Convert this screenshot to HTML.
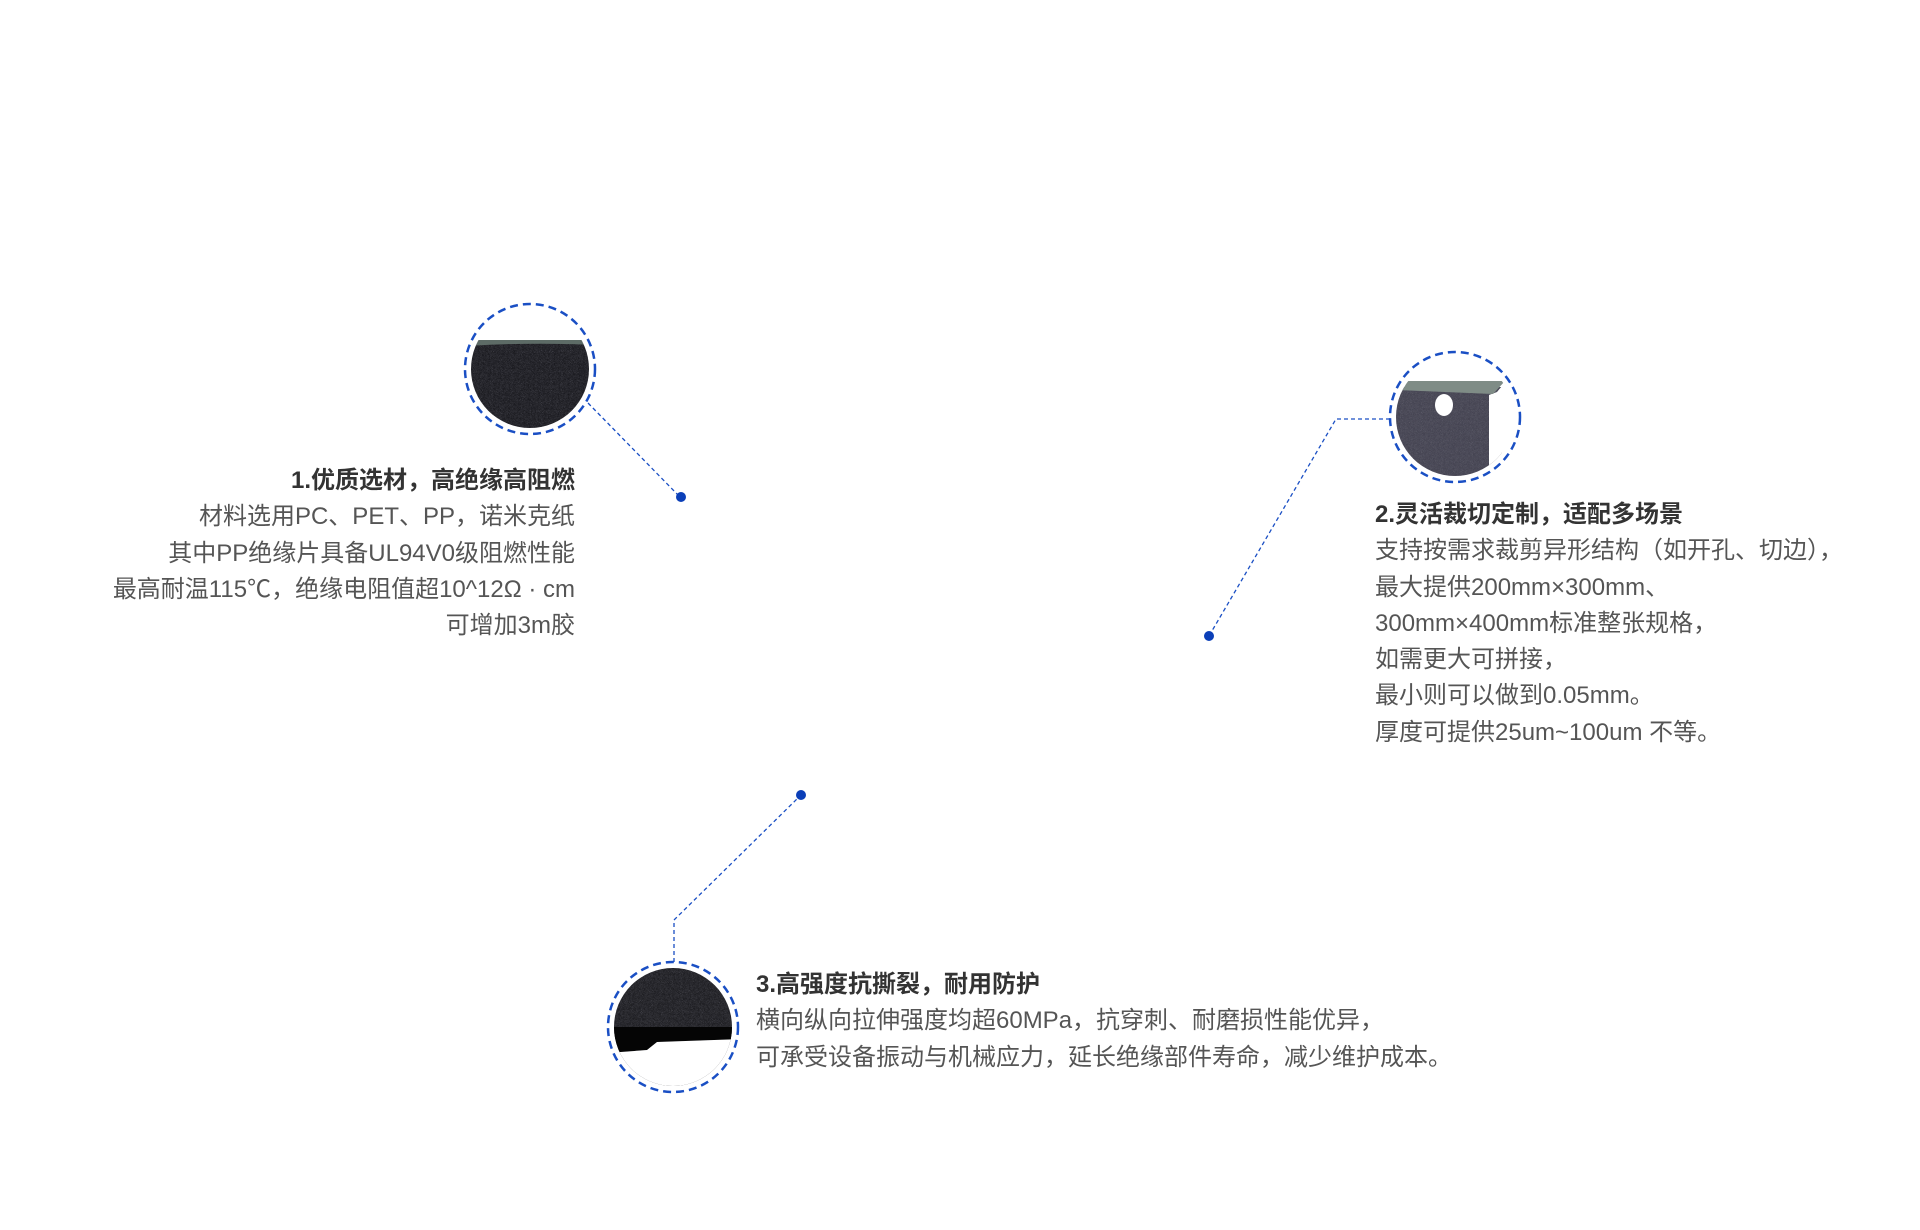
<!DOCTYPE html>
<html><head><meta charset="utf-8"><style>
html,body{margin:0;padding:0;background:#fff;}
body{width:1920px;height:1230px;position:relative;overflow:hidden;font-family:"Liberation Sans","Noto Sans CJK SC",sans-serif;}
#w{position:absolute;left:-3px;top:-3px;width:1920px;height:1230px;}
.t{position:absolute;font-size:24px;line-height:36.3px;color:#555;white-space:nowrap;}
.t b{color:#333;font-weight:bold;display:block;}
svg{position:absolute;left:0;top:0;}
</style></head><body><div id="w">
<svg width="1920" height="1230" viewBox="0 0 1920 1230">
<defs>
<clipPath id="c1"><circle cx="533" cy="372" r="59"/></clipPath>
<clipPath id="c2"><circle cx="1458" cy="420" r="59"/></clipPath>
<clipPath id="c3"><circle cx="676" cy="1030" r="59"/></clipPath>
<filter id="n"><feTurbulence baseFrequency="0.9" numOctaves="2" seed="3"/><feColorMatrix values="0 0 0 0 0.25 0 0 0 0 0.25 0 0 0 0 0.3 0 0 0 0.5 0"/><feComposite in2="SourceGraphic" operator="in"/></filter>
</defs>
<g clip-path="url(#c1)">
<rect x="470" y="343" width="130" height="100" fill="#17171c"/>
<rect x="470" y="343" width="130" height="100" fill="#000" filter="url(#n)"/>
<path d="M470 343 L600 343 L600 348 Q533 345 470 349Z" fill="#5d6b66"/>
</g>
<circle cx="533" cy="372" r="65" fill="none" stroke="#1a4fc4" stroke-width="2.5" stroke-dasharray="8 5"/>
<line x1="591" y1="406" x2="683" y2="500" stroke="#1a4fc4" stroke-width="1.3" stroke-dasharray="4 3"/>
<circle cx="684" cy="500" r="5" fill="#0b3fb8"/>
<g clip-path="url(#c2)">
<rect x="1395" y="390" width="110" height="100" fill="#42414f"/>
<rect x="1395" y="390" width="110" height="100" fill="#000" filter="url(#n)"/>
<path d="M1390 383 L1510 383 L1500 395 L1492 398 L1492 490 L1510 490 L1510 360 L1390 360Z" fill="#fff"/>
<path d="M1400 384 L1508 384 L1496 397 L1400 393Z" fill="#7f8c86"/>
<ellipse cx="1447" cy="408" rx="9" ry="11" fill="#fff"/>
</g>
<circle cx="1458" cy="420" r="65" fill="none" stroke="#1a4fc4" stroke-width="2.5" stroke-dasharray="8 5"/>
<polyline points="1393,422 1339,422 1212,639" fill="none" stroke="#1a4fc4" stroke-width="1.3" stroke-dasharray="4 3"/>
<circle cx="1212" cy="639" r="5" fill="#0b3fb8"/>
<g clip-path="url(#c3)">
<rect x="610" y="965" width="135" height="130" fill="#1a1a1e"/>
<rect x="610" y="965" width="135" height="130" fill="#000" filter="url(#n)"/>
<path d="M610 1030 L745 1030 L745 1042 L660 1045 L650 1053 L610 1056Z" fill="#050505"/>
<path d="M610 1056 L650 1053 L660 1045 L745 1042 L745 1095 L610 1095Z" fill="#fff"/>
</g>
<circle cx="676" cy="1030" r="65" fill="none" stroke="#1a4fc4" stroke-width="2.5" stroke-dasharray="8 5"/>
<polyline points="677,965 677,923 804,798" fill="none" stroke="#1a4fc4" stroke-width="1.3" stroke-dasharray="4 3"/>
<circle cx="804" cy="798" r="5" fill="#0b3fb8"/>
</svg>
<div class="t" style="right:1342px;top:466px;text-align:right;">
<b>1.优质选材，高绝缘高阻燃</b>
材料选用PC、PET、PP，诺米克纸<br>
其中PP绝缘片具备UL94V0级阻燃性能<br>
最高耐温115℃，绝缘电阻值超10^12Ω · cm<br>
可增加3m胶
</div>
<div class="t" style="left:1378px;top:500px;">
<b>2.灵活裁切定制，适配多场景</b>
支持按需求裁剪异形结构（如开孔、切边），<br>
最大提供200mm×300mm、<br>
300mm×400mm标准整张规格，<br>
如需更大可拼接，<br>
最小则可以做到0.05mm。<br>
厚度可提供25um~100um 不等。
</div>
<div class="t" style="left:759px;top:970px;">
<b>3.高强度抗撕裂，耐用防护</b>
横向纵向拉伸强度均超60MPa，抗穿刺、耐磨损性能优异，<br>
可承受设备振动与机械应力，延长绝缘部件寿命，减少维护成本。
</div>
</div></body></html>
